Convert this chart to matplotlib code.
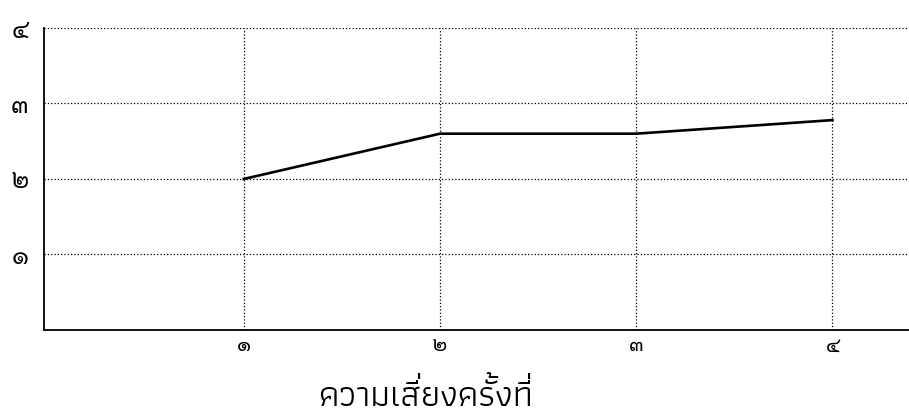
import os
import matplotlib
matplotlib.use("Agg")
import matplotlib.pyplot as plt
from matplotlib import font_manager
from matplotlib.ft2font import FT2Font
from matplotlib.textpath import TextPath

# data
rounds = [1, 2, 3, 4]
scores = [2.0, 2.6, 2.6, 2.78]
x_labels = ["๑", "๒", "๓", "๔"]
y_ticks = [1, 2, 3, 4]
y_labels = ["๑", "๒", "๓", "๔"]
x_title = "ความเสี่ยงครั้งที่"

all_fonts = font_manager.findSystemFonts()


def pick_font(names):
    # first installed file whose name matches, else any font with Thai glyphs
    by_name = {os.path.basename(p): p for p in all_fonts}
    for n in names:
        if n in by_name:
            return by_name[n]
    for p in all_fonts:
        try:
            if 0x0E01 in FT2Font(p).get_charmap() and 'unifont' not in p:
                return p
        except Exception:
            pass
    return None


digit_font = pick_font(["Sarabun-Regular.ttf", "NotoSansThaiLooped-Regular.ttf",
                        "IBMPlexSansThaiLooped-Regular.ttf", "Maitree-Regular.ttf"])
title_font = pick_font(["Athiti-Regular.ttf", "KoHo-Regular.ttf",
                        "IBMPlexSansThai-Regular.ttf", "Kanit-Light.ttf"])

fig = plt.figure(figsize=(9.09, 4.15), dpi=100)
ax = fig.add_axes([0.048, 0.205, 0.952, 0.7275])

ax.plot(rounds, scores, color='black', linewidth=1.9)

ax.set_xlim(-0.02, 4.39)
ax.set_ylim(0, 4)
ax.set_xticks(rounds)
ax.set_yticks(y_ticks)
xfp = font_manager.FontProperties(fname=digit_font, size=15)
yfp = font_manager.FontProperties(fname=digit_font, size=18)
ax.set_xticklabels(x_labels, fontproperties=xfp)
ax.set_yticklabels(y_labels, fontproperties=yfp)
ax.tick_params(axis='both', length=0)
ax.tick_params(axis='y', pad=11)
ax.tick_params(axis='x', pad=4)

ax.grid(True, color='black', linestyle=':', linewidth=0.9)
for side in ['top', 'right']:
    ax.spines[side].set_visible(False)
ax.spines['left'].set_linewidth(1.3)
ax.spines['bottom'].set_linewidth(1.3)

# x axis title. matplotlib does no Thai mark stacking, so tone marks that
# sit on an upper vowel are drawn as their own text, raised above the vowel
tfp = font_manager.FontProperties(fname=title_font, size=26)
tones = "่้๊๋"
upper_vowels = "ัิีึื็"
base = ""
marks = []
for ch in x_title:
    if ch in tones and base and base[-1] in upper_vowels:
        marks.append((ch, base))
    else:
        base += ch

px = fig.dpi / 72.0
fig_w = fig.get_figwidth() * fig.dpi
fig_h = fig.get_figheight() * fig.dpi
base_ext = TextPath((0, 0), base, prop=tfp).get_extents()
center_x = 423
baseline_y = 415 - 406
left_x = center_x - base_ext.width * px / 2
fig.text(left_x / fig_w, baseline_y / fig_h, base, fontproperties=tfp,
         ha='left', va='baseline')
for mark, prefix in marks:
    pre_ext = TextPath((0, 0), prefix, prop=tfp).get_extents()
    vowel_ext = TextPath((0, 0), prefix[-2:], prop=tfp).get_extents()
    mark_ext = TextPath((0, 0), mark, prop=tfp).get_extents()
    # agg draws from the pen origin, so line the mark's right edge up
    # with the right edge of the consonant + vowel
    mx = left_x + (pre_ext.x1 - mark_ext.x1) * px
    raise_pt = vowel_ext.y1 + 1.0 - mark_ext.y0
    fig.text(mx / fig_w, (baseline_y + raise_pt * px) / fig_h, mark,
             fontproperties=tfp, ha='left', va='baseline')

plt.savefig("out.png", dpi=100)
